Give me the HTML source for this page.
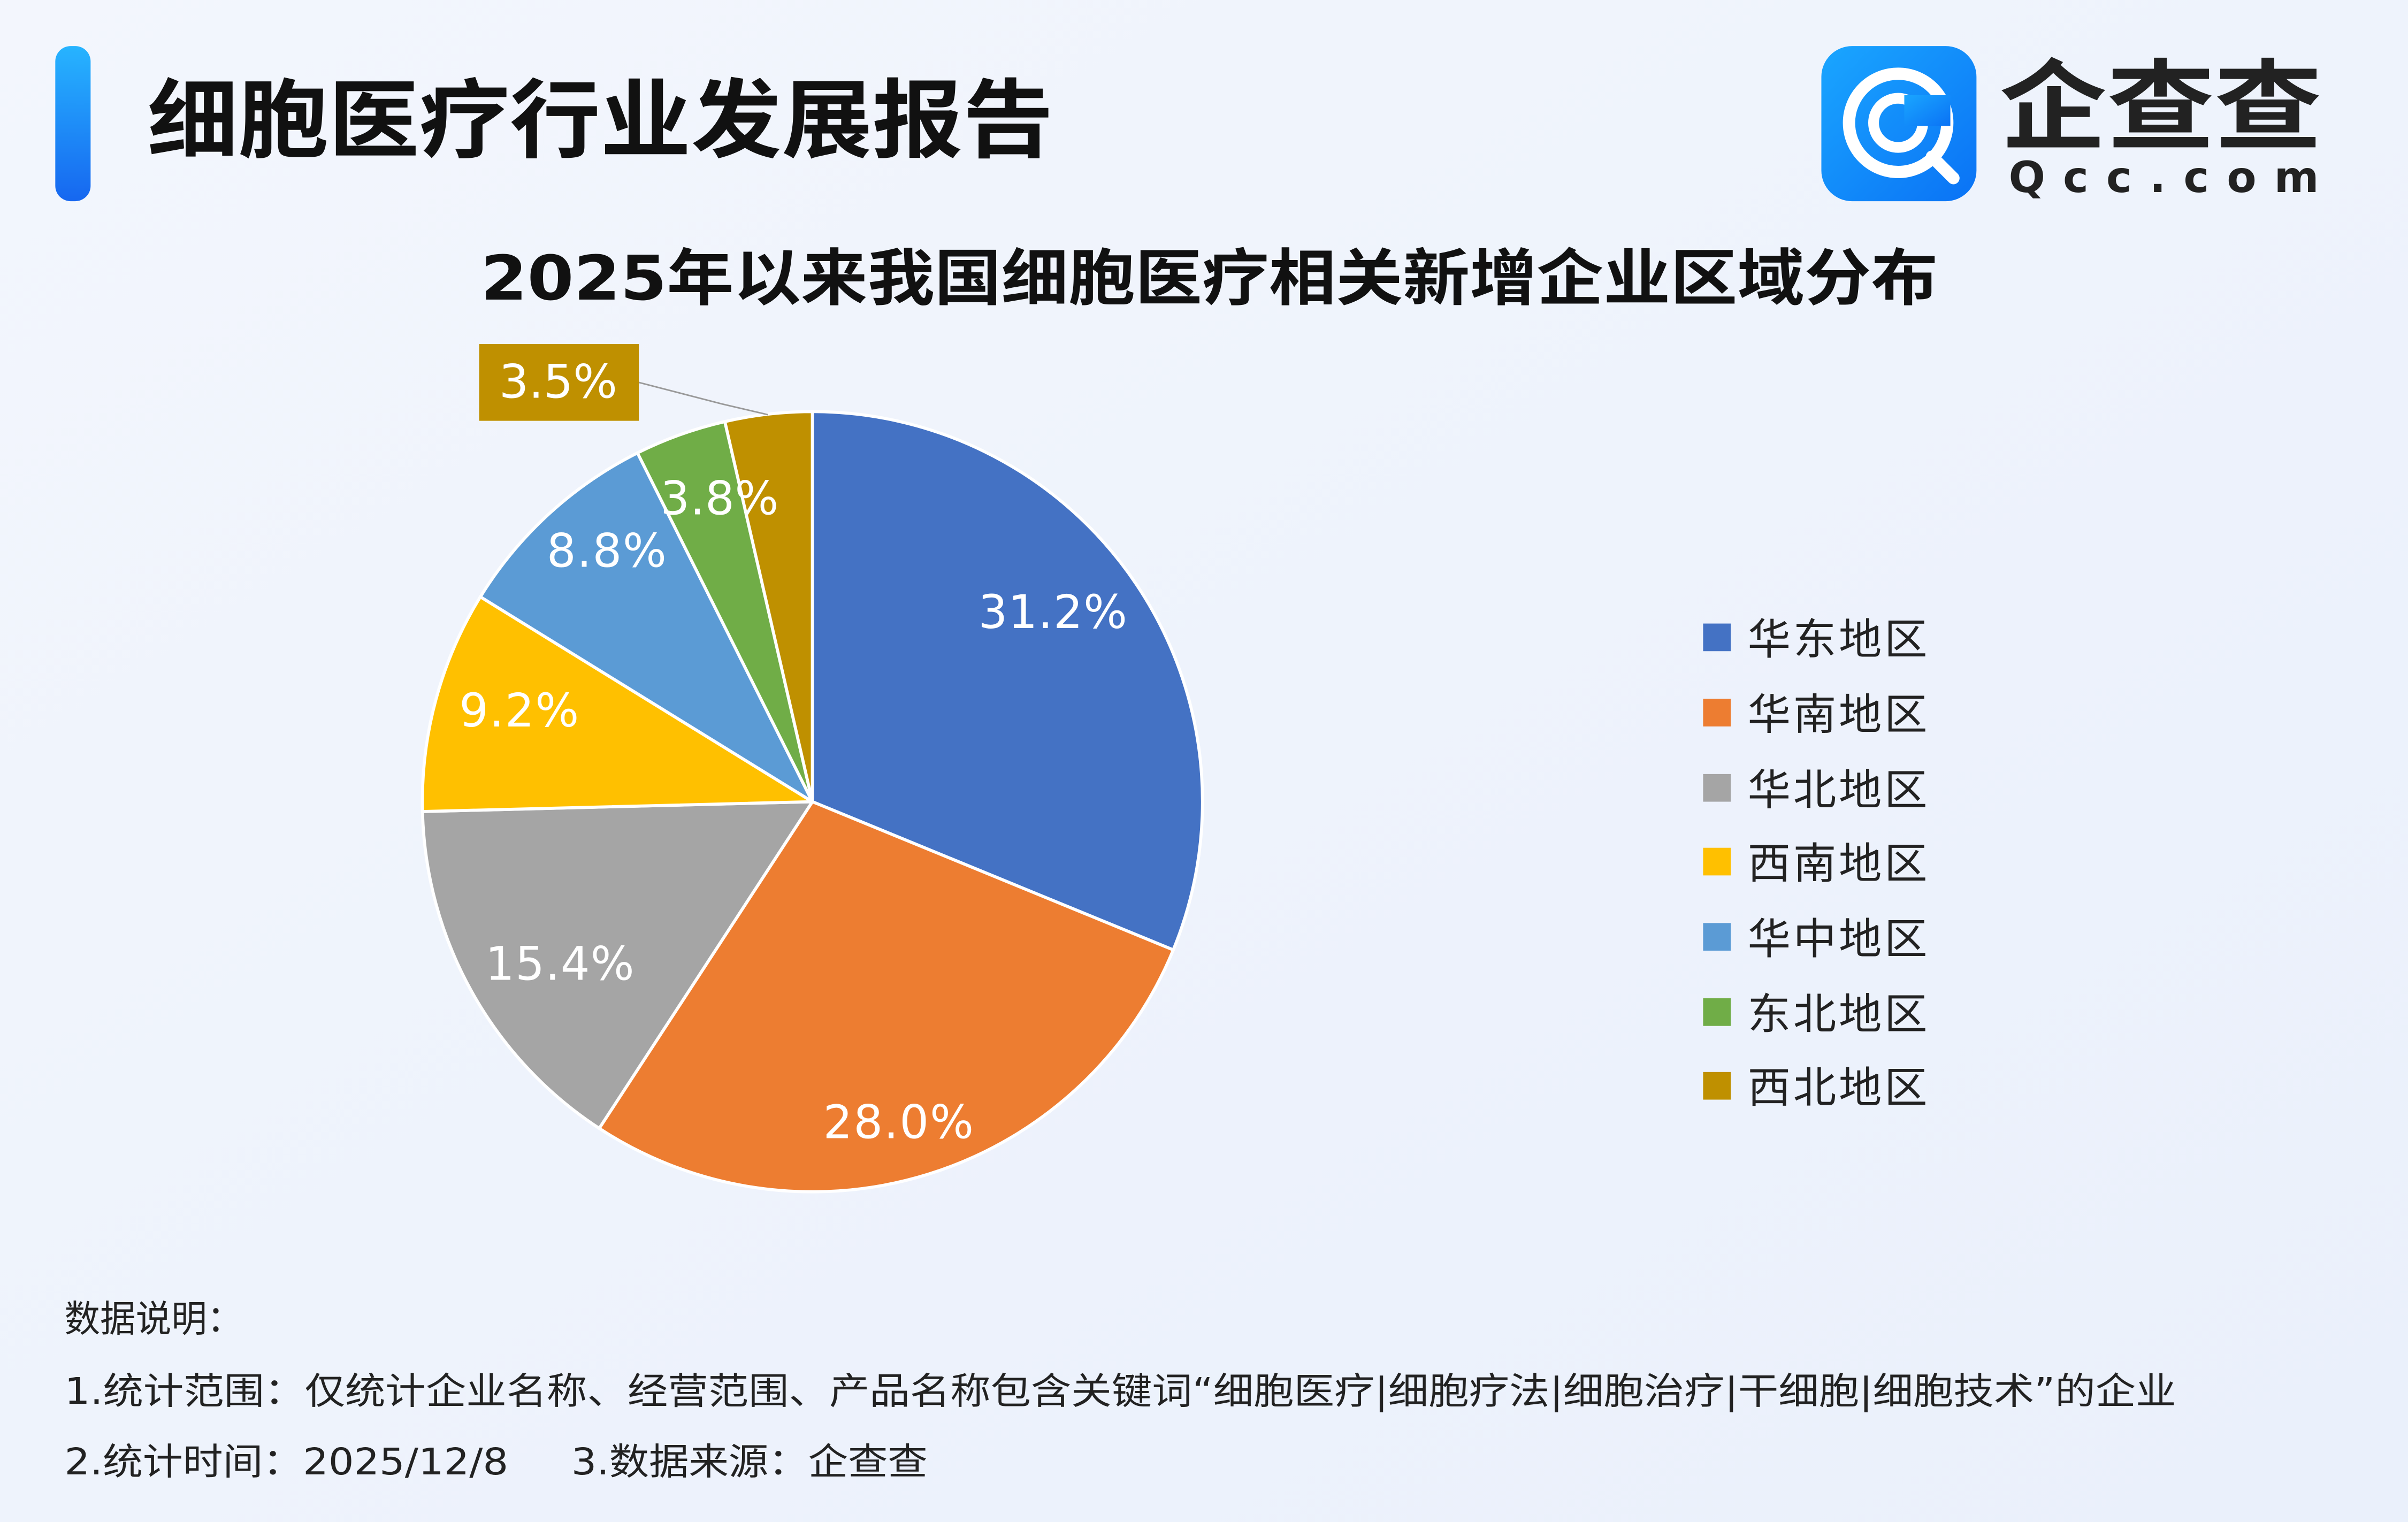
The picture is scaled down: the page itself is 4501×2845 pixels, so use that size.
<!DOCTYPE html>
<html><head><meta charset="utf-8"><style>
html,body{margin:0;padding:0;width:4501px;height:2845px;overflow:hidden;background:#eef3fc}
svg{display:block}
text{font-family:"DejaVu Sans","Noto Sans CJK SC",sans-serif}
</style></head><body>
<svg width="4501" height="2845" viewBox="0 0 1568 991" preserveAspectRatio="none" xmlns="http://www.w3.org/2000/svg">
<defs>
<linearGradient id="bg" x1="0" y1="0" x2="1" y2="1">
<stop offset="0" stop-color="#f3f6fd"/><stop offset="0.5" stop-color="#eef3fc"/><stop offset="1" stop-color="#eaf0fb"/>
</linearGradient>
<linearGradient id="acc" x1="0" y1="0" x2="0" y2="1">
<stop offset="0" stop-color="#27b4ff"/><stop offset="1" stop-color="#1667f0"/>
</linearGradient>
<linearGradient id="lg" x1="0" y1="0" x2="1" y2="1">
<stop offset="0" stop-color="#1aa6ff"/><stop offset="1" stop-color="#0a72f5"/>
</linearGradient>
</defs>
<rect width="1568" height="991" fill="url(#bg)"/>
<rect x="36" y="30" width="23" height="101" rx="10" fill="url(#acc)"/>
<text x="96" y="98" font-size="56" font-weight="bold" fill="#111" textLength="590" lengthAdjust="spacingAndGlyphs">细胞医疗行业发展报告</text>
<rect x="1186" y="30" width="101" height="101" rx="20" fill="url(#lg)"/>
<circle cx="1236" cy="80" r="32" fill="none" stroke="#fff" stroke-width="8"/>
<circle cx="1236" cy="80" r="16" fill="none" stroke="#fff" stroke-width="7"/>
<rect x="1240" y="62" width="30" height="20" fill="url(#lg)"/>
<line x1="1258" y1="102" x2="1272" y2="116" stroke="#fff" stroke-width="8" stroke-linecap="round"/>
<text x="1302" y="92" font-size="64" font-weight="bold" fill="#222" textLength="210" lengthAdjust="spacingAndGlyphs">企查查</text>
<text x="1308" y="125" font-size="28" font-weight="bold" fill="#222" textLength="202" lengthAdjust="spacing">Qcc.com</text>
<text x="313" y="195" font-size="40" font-weight="bold" fill="#111" textLength="949" lengthAdjust="spacingAndGlyphs">2025年以来我国细胞医疗相关新增企业区域分布</text>
<g stroke="#fff" stroke-width="2" stroke-linejoin="round">
<path d="M529 522 L529 268 A254 254 0 0 1 764 618.5 Z" fill="#4472c4"/>
<path d="M529 522 L764 618.5 A254 254 0 0 1 390.2 734.7 Z" fill="#ed7d31"/>
<path d="M529 522 L390.2 734.7 A254 254 0 0 1 275.1 528.4 Z" fill="#a5a5a5"/>
<path d="M529 522 L275.1 528.4 A254 254 0 0 1 312.8 388.6 Z" fill="#ffc000"/>
<path d="M529 522 L312.8 388.6 A254 254 0 0 1 415.1 294.9 Z" fill="#5b9bd5"/>
<path d="M529 522 L415.1 294.9 A254 254 0 0 1 472.0 274.5 Z" fill="#70ad47"/>
<path d="M529 522 L472.0 274.5 A254 254 0 0 1 529 268 Z" fill="#bf9000"/>
</g>
<g font-size="30" fill="#fff" lengthAdjust="spacingAndGlyphs">
<text x="637" y="409" textLength="97">31.2%</text>
<text x="536" y="741" textLength="98">28.0%</text>
<text x="316" y="638" textLength="97">15.4%</text>
<text x="299" y="473" textLength="78">9.2%</text>
<text x="356" y="369" textLength="78">8.8%</text>
<text x="430" y="335" textLength="77">3.8%</text>
</g>
<polyline points="416,249 470,263 500,270" fill="none" stroke="#999" stroke-width="1"/>
<rect x="312" y="224" width="104" height="50" fill="#bf9000"/>
<text x="325" y="259" font-size="30" fill="#fff" textLength="77" lengthAdjust="spacingAndGlyphs">3.5%</text>
<g font-size="28" fill="#222">
<rect x="1109" y="406" width="18" height="18" fill="#4472c4"/><text x="1138" y="426" textLength="117">华东地区</text>
<rect x="1109" y="455" width="18" height="18" fill="#ed7d31"/><text x="1138" y="475" textLength="117">华南地区</text>
<rect x="1109" y="504" width="18" height="18" fill="#a5a5a5"/><text x="1138" y="524" textLength="117">华北地区</text>
<rect x="1109" y="552" width="18" height="18" fill="#ffc000"/><text x="1138" y="572" textLength="117">西南地区</text>
<rect x="1109" y="601" width="18" height="18" fill="#5b9bd5"/><text x="1138" y="621" textLength="117">华中地区</text>
<rect x="1109" y="650" width="18" height="18" fill="#70ad47"/><text x="1138" y="670" textLength="117">东北地区</text>
<rect x="1109" y="698" width="18" height="18" fill="#bf9000"/><text x="1138" y="718" textLength="117">西北地区</text>
</g>
<g font-size="24" fill="#222">
<text x="42" y="867" textLength="116" lengthAdjust="spacingAndGlyphs">数据说明：</text>
<text x="42" y="914" textLength="1375" lengthAdjust="spacingAndGlyphs">1.统计范围：仅统计企业名称、经营范围、产品名称包含关键词“细胞医疗|细胞疗法|细胞治疗|干细胞|细胞技术”的企业</text>
<text x="42" y="960" textLength="289" lengthAdjust="spacingAndGlyphs">2.统计时间：2025/12/8</text>
<text x="372" y="960" textLength="232" lengthAdjust="spacingAndGlyphs">3.数据来源：企查查</text>
</g>
</svg>
</body></html>
